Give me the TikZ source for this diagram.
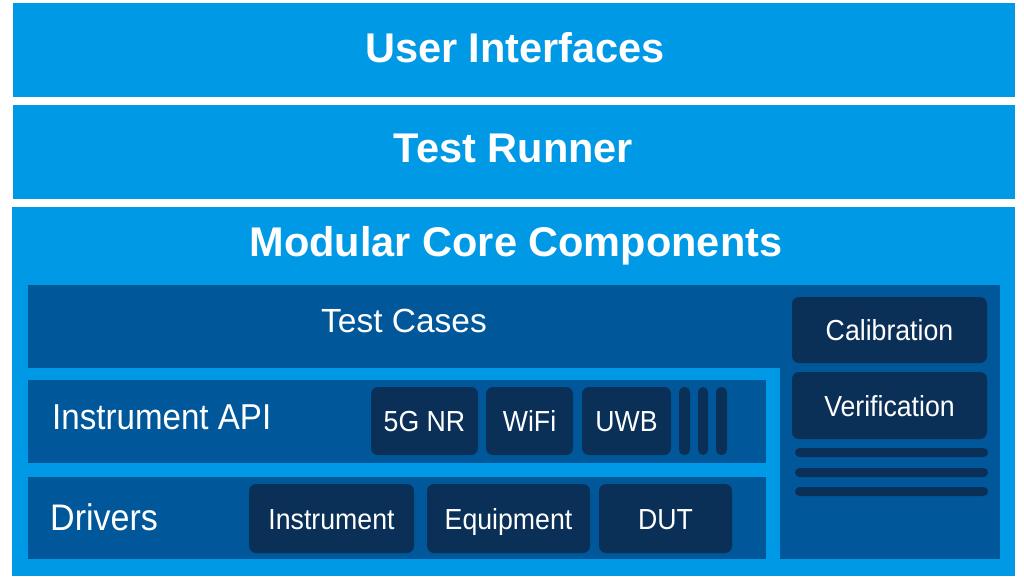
\documentclass[tikz,border=0pt]{standalone}
\usepackage{fontspec}
\setmainfont{Liberation Sans}
\definecolor{lblue}{RGB}{0,153,229}
\definecolor{pblue}{RGB}{0,88,155}
\definecolor{dblue}{RGB}{10,48,88}
\newcommand{\nrw}[1]{\scalebox{0.92}[1]{#1}}
\begin{document}
\begin{tikzpicture}[x=1pt,y=-1pt,
  layer/.style={fill=lblue, inner sep=0pt, outer sep=0pt},
  panel/.style={fill=pblue, inner sep=0pt, outer sep=0pt},
  chip/.style={fill=dblue, rounded corners=7pt, inner sep=0pt, outer sep=0pt, text=white,
    font=\fontsize{29}{34}\selectfont, text height=21pt, text depth=0pt},
  bar/.style={fill=dblue, rounded corners=4.5pt, inner sep=0pt, outer sep=0pt},
  title/.style={text=white, inner sep=0pt, anchor=base, font=\fontsize{41.5}{48}\selectfont\bfseries},
  lbl/.style={text=white, inner sep=0pt, font=\fontsize{33.5}{40}\selectfont}
]
\useasboundingbox (0,0) rectangle (1024,576);
\fill[white] (0,0) rectangle (1024,576);
% layers
\node[layer, minimum width=1002pt, minimum height=94pt] (ui) at (514,50) {};
\node[layer, minimum width=1002pt, minimum height=94pt] (tr) at (514,152) {};
\node[layer, minimum width=1003pt, minimum height=369pt] (mc) at (513.5,391.5) {};
\node[title] (uit) at (515,62) {User Interfaces};
\node[title] (trt) at (513.5,162.5) {Test Runner};
\node[title] (mct) at (516,256) {Modular Core Components};
% panels
\node[panel, minimum width=752pt, minimum height=83pt] (tc) at (404,326.5) {};
\node[panel, minimum width=220pt, minimum height=274pt] (rc) at (890,422) {};
\node[panel, minimum width=738pt, minimum height=83pt] (api) at (397,421.5) {};
\node[panel, minimum width=738pt, minimum height=82pt] (drv) at (397,518) {};
\node[lbl, anchor=base] (tct) at (404,332) {Test Cases};
\node[lbl, anchor=base west, font=\fontsize{36}{42}\selectfont] (apit) at (52,429.3) {\nrw{Instrument API}};
\node[lbl, anchor=base west, font=\fontsize{37}{42}\selectfont] (drvt) at (50,530) {\nrw{Drivers}};
% right column
\node[chip, minimum width=195pt, minimum height=66pt] (cal) at (889.5,330) {\nrw{Calibration}};
\node[chip, minimum width=195pt, minimum height=67pt] (ver) at (889.5,405.5) {\nrw{Verification}};
\node[bar, minimum width=193pt, minimum height=9pt] (l1) at (891.5,452.5) {};
\node[bar, minimum width=193pt, minimum height=9pt] (l2) at (891.5,472.5) {};
\node[bar, minimum width=193pt, minimum height=9pt] (l3) at (891.5,491.5) {};
% instrument API chips
\node[chip, minimum width=107pt, minimum height=68pt] (g5) at (424.5,421) {\nrw{5G NR}};
\node[chip, minimum width=87pt, minimum height=68pt] (wifi) at (529.5,421) {\nrw{WiFi}};
\node[chip, minimum width=89pt, minimum height=68pt] (uwb) at (626.5,421) {\nrw{UWB}};
\node[bar, rounded corners=5pt, minimum width=11pt, minimum height=68pt] (b1) at (684.5,421) {};
\node[bar, rounded corners=5pt, minimum width=10pt, minimum height=68pt] (b2) at (703,421) {};
\node[bar, rounded corners=5pt, minimum width=11pt, minimum height=68pt] (b3) at (721.5,421) {};
% drivers chips
\node[chip, minimum width=165pt, minimum height=69pt] (inst) at (331.5,518.5) {\nrw{Instrument}};
\node[chip, minimum width=163pt, minimum height=69pt] (equip) at (508.5,518.5) {\nrw{Equipment}};
\node[chip, minimum width=133pt, minimum height=69pt] (dut) at (665.5,518.5) {\nrw{DUT}};
\end{tikzpicture}
\end{document}
